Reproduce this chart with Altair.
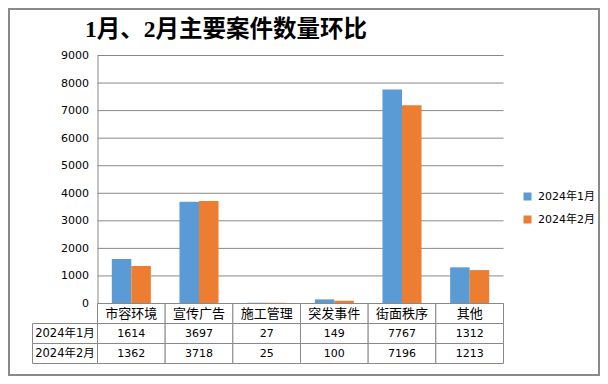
import altair as alt
import pandas as pd

# ---------------- data ----------------
title_text = "1月、2月主要案件数量环比"
categories = ["市容环境", "宣传广告", "施工管理", "突发事件", "街面秩序", "其他"]
series = ["2024年1月", "2024年2月"]
jan_values = [1614, 3697, 27, 149, 7767, 1312]
feb_values = [1362, 3718, 25, 100, 7196, 1213]
y_ticks = [0, 1000, 2000, 3000, 4000, 5000, 6000, 7000, 8000, 9000]
colors = ["#5B9BD5", "#ED7D31"]

# ---------------- layout ----------------
W, H = 592, 368
X_RANGE = [89.5, 495.5]
LABEL_RANGE = [24.5, 89.5]
Y_RANGE = [295.5, 47.5]
ROW_RANGE = [295.5, 355.5]
GRAY = "#898989"
HEADER = "header"
rows = [HEADER] + series

bars_df = pd.DataFrame({
    "cat": categories * 2,
    "series": [series[0]] * len(categories) + [series[1]] * len(categories),
    "value": jan_values + feb_values,
})
grid_df = pd.DataFrame({"tick": y_ticks, "start": categories[0], "end": categories[-1]})
header_df = pd.DataFrame({"cat": categories, "row": HEADER, "text": categories})
values_df = pd.DataFrame({
    "cat": categories * 2,
    "row": [series[0]] * len(categories) + [series[1]] * len(categories),
    "text": [str(v) for v in jan_values + feb_values],
})
cells_df = pd.concat([header_df, values_df], ignore_index=True)
labels_df = pd.DataFrame({"col": "label", "row": series, "text": series})


def xs():
    return alt.Scale(domain=categories, range=X_RANGE, paddingInner=0, paddingOuter=0)


def ys():
    return alt.Scale(domain=[0, 9000], range=Y_RANGE, nice=False, zero=True)


def rs():
    return alt.Scale(domain=rows, range=ROW_RANGE, paddingInner=0, paddingOuter=0)


def ls():
    return alt.Scale(domain=["label"], range=LABEL_RANGE, paddingInner=0, paddingOuter=0)


grid_layer = alt.Chart(grid_df).mark_rule(color=GRAY, strokeWidth=1).encode(
    x=alt.X("start:N", scale=xs(), axis=None, bandPosition=0),
    x2=alt.X2("end", bandPosition=1),
    y=alt.Y("tick:Q", scale=ys(), axis=None),
)

bar_layer = alt.Chart(bars_df).mark_bar().encode(
    x=alt.X("cat:N", scale=xs(), axis=None, sort=categories),
    xOffset=alt.XOffset("series:N", sort=series,
                        scale=alt.Scale(domain=series, paddingInner=0, paddingOuter=0.733)),
    y=alt.Y("value:Q", scale=ys(), axis=alt.Axis(
        values=y_ticks, offset=-89.5, grid=False, ticks=False, domain=True,
        domainColor=GRAY, domainWidth=1, labelPadding=9, labelFont="DejaVu Sans",
        labelFontSize=11, labelColor="#000", title=None, format="d")),
    color=alt.Color("series:N", scale=alt.Scale(domain=series, range=colors), legend=alt.Legend(
        orient="none", legendX=514, legendY=183, title=None, symbolType="square",
        symbolSize=64, symbolStrokeWidth=0, labelFont="DejaVu Sans, Noto Sans CJK SC",
        labelFontSize=11, labelColor="#000", rowPadding=11, padding=0, labelOffset=5)),
)

cell_rect = alt.Chart(cells_df).mark_rect(fill="white", stroke=GRAY, strokeWidth=1).encode(
    x=alt.X("cat:N", scale=xs(), axis=None),
    y=alt.Y("row:O", scale=rs(), axis=None),
)
label_rect = alt.Chart(labels_df).mark_rect(fill="white", stroke=GRAY, strokeWidth=1).encode(
    x=alt.X("col:N", scale=ls(), axis=None),
    y=alt.Y("row:O", scale=rs(), axis=None),
)
header_text = alt.Chart(header_df).mark_text(
    font="Noto Sans CJK SC", fontSize=13, color="#000", baseline="middle").encode(
    x=alt.X("cat:N", scale=xs(), axis=None),
    y=alt.Y("row:O", scale=rs(), axis=None),
    text="text:N",
)
value_text = alt.Chart(values_df).mark_text(
    font="DejaVu Sans", fontSize=11, color="#000", baseline="middle").encode(
    x=alt.X("cat:N", scale=xs(), axis=None),
    y=alt.Y("row:O", scale=rs(), axis=None),
    text="text:N",
)
label_text = alt.Chart(labels_df).mark_text(
    font="DejaVu Sans, Noto Sans CJK SC", fontSize=11.5, color="#000", baseline="middle").encode(
    x=alt.X("col:N", scale=ls(), axis=None),
    y=alt.Y("row:O", scale=rs(), axis=None),
    text="text:N",
)

chart = alt.layer(
    grid_layer, bar_layer, cell_rect, label_rect, header_text, value_text, label_text
).resolve_scale(x="independent", y="independent").properties(
    width=W, height=H,
    title=alt.TitleParams(text=title_text, anchor="start", frame="group", offset=-26, dx=77,
                          dy=26, baseline="alphabetic", font="Liberation Serif, Noto Sans CJK SC",
                          fontSize=23.5, fontWeight="bold", color="#000"),
    autosize=alt.AutoSizeParams(type="none"),
    padding=0,
    background="white",
).configure_view(stroke=GRAY, strokeWidth=4)

chart.save("out.html", embed_options={"renderer": "svg", "actions": False})
